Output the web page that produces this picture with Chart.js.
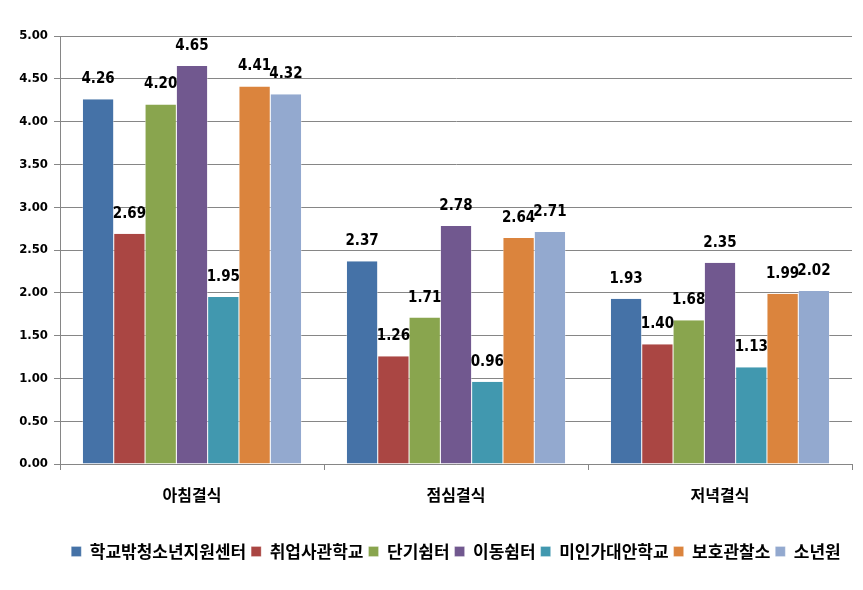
<!DOCTYPE html>
<html><head><meta charset="utf-8">
<script src="https://cdn.jsdelivr.net/npm/chart.js@4/dist/chart.umd.min.js"></script>
<style>html,body{margin:0;padding:0;background:#fff}#w{width:863px;height:590px}</style>
</head><body><div id="w"><canvas id="c"></canvas></div>
<script>
const categories = ['아침결식', '점심결식', '저녁결식'];
const seriesNames = ['학교밖청소년지원센터', '취업사관학교', '단기쉼터', '이동쉼터', '미인가대안학교', '보호관찰소', '소년원'];
const s1 = [4.26, 2.37, 1.93];
const s2 = [2.69, 1.26, 1.40];
const s3 = [4.20, 1.71, 1.68];
const s4 = [4.65, 2.78, 2.35];
const s5 = [1.95, 0.96, 1.13];
const s6 = [4.41, 2.64, 1.99];
const s7 = [4.32, 2.71, 2.02];
const colors = ['#4572A7', '#AA4643', '#89A54E', '#71588F', '#4198AF', '#DB843D', '#93A9CF'];
const allSeries = [s1, s2, s3, s4, s5, s6, s7];
const narrow = '"Liberation Sans Narrow", "DejaVu Sans Condensed", "Arial Narrow", sans-serif';

const labelPlugin = {
  id: 'vlabels',
  afterDatasetsDraw(chart) {
    const ctx = chart.ctx;
    ctx.save();
    ctx.font = 'bold 15px ' + narrow;
    ctx.fillStyle = '#000';
    ctx.textAlign = 'center';
    ctx.textBaseline = 'middle';
    chart.data.datasets.forEach((ds, i) => {
      chart.getDatasetMeta(i).data.forEach((bar, j) => {
        ctx.fillText(ds.data[j].toFixed(2), bar.x, bar.y - 20);
      });
    });
    ctx.restore();
  }
};

new Chart(document.getElementById('c'), {
  type: 'bar',
  data: {
    labels: categories,
    datasets: allSeries.map((d, i) => ({
      label: seriesNames[i], data: d, backgroundColor: colors[i],
      borderColor: '#ffffff', borderWidth: {left: 0.5, right: 0.5, top: 0, bottom: 0}, borderSkipped: false
    }))
  },
  options: {
    responsive: true, maintainAspectRatio: false, animation: false,
    layout: {padding: {top: 36, right: 11, left: 0, bottom: 20}},
    datasets: {bar: {categoryPercentage: 0.83, barPercentage: 1.0}},
    scales: {
      x: {
        afterFit(s) { s.height = 74; },
        grid: {offset: true, drawOnChartArea: false, color: '#868686', tickLength: 6},
        border: {color: '#868686'},
        ticks: {color: '#000', font: {size: 16, weight: 'bold', family: '"Noto Sans CJK KR", sans-serif'}, padding: 15}
      },
      y: {
        min: 0, max: 5,
        afterFit(s) { s.width = 60; },
        grid: {color: '#868686', tickLength: 6},
        border: {color: '#868686'},
        ticks: {stepSize: 0.5, color: '#000', padding: 6,
          font: {size: 13, weight: 'bold', family: narrow},
          callback: v => Number(v).toFixed(2)}
      }
    },
    plugins: {
      legend: {
        position: 'bottom', fullSize: false,
        labels: {color: '#000', boxWidth: 10, boxHeight: 10, padding: 5,
          font: {size: 17, weight: 'bold', family: '"Noto Sans CJK KR", sans-serif'}}
      },
      tooltip: {enabled: false}
    }
  },
  plugins: [labelPlugin]
});
</script></body></html>
